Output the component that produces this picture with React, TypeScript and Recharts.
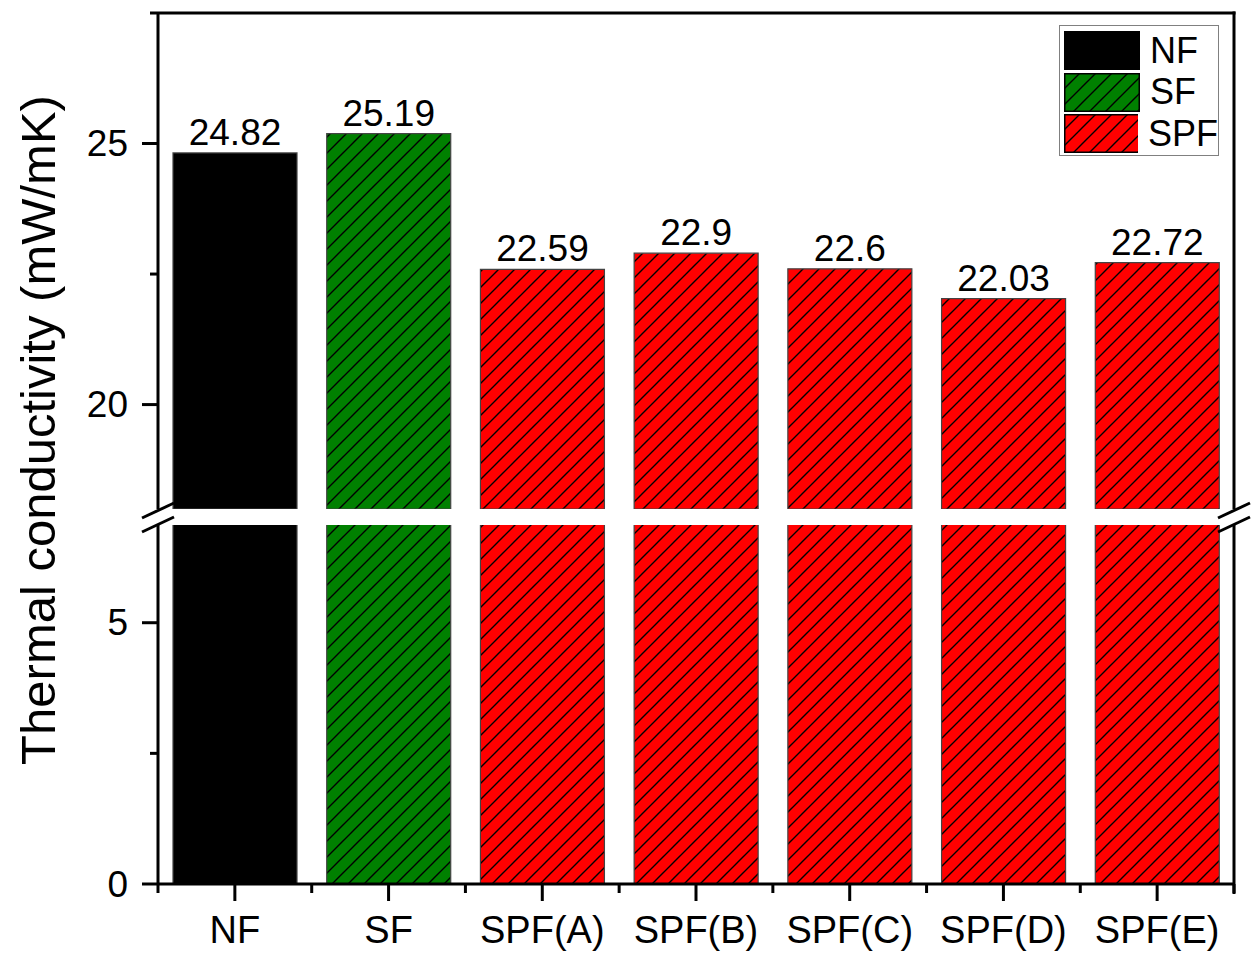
import React from "react";
import { BarChart, Bar, XAxis, YAxis, Cell, LabelList } from "recharts";

const categories = ["NF", "SF", "SPF(A)", "SPF(B)", "SPF(C)", "SPF(D)", "SPF(E)"];
const conductivity = [24.82, 25.19, 22.59, 22.9, 22.6, 22.03, 22.72];
const groups = ["NF", "SF", "SPF", "SPF", "SPF", "SPF", "SPF"];
const legendItems = ["NF", "SF", "SPF"];
const upperTicks = [20, 22.5, 25];
const lowerTicks = [0, 2.5, 5];
const upperDomain = [18, 27.5];
const lowerDomain = [0, 6.87];

const W = 1260;
const H = 959;
const PLOT_LEFT = 158;
const PLOT_RIGHT = 1234;
const UPPER_TOP = 13;
const UPPER_BOTTOM = 509;
const LOWER_TOP = 525;
const LOWER_BOTTOM = 884;
const X_AXIS_H = 60;
const BAND = (PLOT_RIGHT - PLOT_LEFT) / categories.length;
const FONT = "'Liberation Sans', Arial, sans-serif";

const fills: Record<string, string> = {
  NF: "#000000",
  SF: "url(#hatch-green)",
  SPF: "url(#hatch-red)",
};

const data = categories.map((name, i) => ({ name, value: conductivity[i], group: groups[i] }));

function YTick(props: any) {
  const { x, y, payload } = props;
  const major = payload.value % 5 === 0;
  return (
    <g>
      <line x1={x - (major ? 16 : 8)} x2={x} y1={y} y2={y} stroke="#000" strokeWidth={3} />
      {major && (
        <text x={x - 30} y={y} textAnchor="end" dominantBaseline="central" fontSize={37} fontFamily={FONT} fill="#000">
          {payload.value}
        </text>
      )}
    </g>
  );
}

function XTick(props: any) {
  const { x, y, payload, index } = props;
  const last = index === categories.length - 1;
  return (
    <g>
      <line x1={x} x2={x} y1={y} y2={y + 17} stroke="#000" strokeWidth={3} />
      <line x1={x - BAND / 2} x2={x - BAND / 2} y1={y} y2={y + 9} stroke="#000" strokeWidth={3} />
      {last && <line x1={x + BAND / 2} x2={x + BAND / 2} y1={y} y2={y + 9} stroke="#000" strokeWidth={3} />}
      <text x={x} y={y + 59} textAnchor="middle" fontSize={38} fontFamily={FONT} fill="#000">
        {payload.value}
      </text>
    </g>
  );
}

function Hatch({ id, color }: { id: string; color: string }) {
  return (
    <pattern id={id} patternUnits="userSpaceOnUse" width={16} height={16}>
      <rect width={16} height={16} fill={color} />
      <path d="M0,16 L16,0 M-4,4 L4,-4 M12,20 L20,12" stroke="#000" strokeWidth={1.4} />
    </pattern>
  );
}

function BreakMark({ x }: { x: number }) {
  return (
    <g stroke="#000" strokeWidth={3}>
      <line x1={x - 16} y1={UPPER_BOTTOM + 9} x2={x + 16} y2={UPPER_BOTTOM - 6} />
      <line x1={x - 16} y1={LOWER_TOP + 7} x2={x + 16} y2={LOWER_TOP - 8} />
    </g>
  );
}

const axisLine = { stroke: "#000", strokeWidth: 3 };

export default function App() {
  return (
    <div style={{ position: "relative", width: W, height: H, background: "#fff", overflow: "hidden" }}>
      <style>{"html,body{margin:0;padding:0;overflow:hidden}"}</style>
      <svg width={0} height={0} style={{ position: "absolute" }}>
        <defs>
          <Hatch id="hatch-green" color="#008000" />
          <Hatch id="hatch-red" color="#ff0000" />
        </defs>
      </svg>

      <div style={{ position: "absolute", left: 0, top: 0 }}>
        <BarChart width={W} height={H} data={data} margin={{ top: UPPER_TOP, right: W - PLOT_RIGHT, bottom: H - UPPER_BOTTOM, left: 0 }}>
          <XAxis dataKey="name" hide />
          <YAxis yAxisId="left" width={PLOT_LEFT} domain={upperDomain} allowDataOverflow ticks={upperTicks} interval={0} tickSize={0} tickMargin={0} tickLine={false} axisLine={axisLine} tick={YTick} />
          <Bar yAxisId="left" dataKey="value" barSize={124} stroke="#444" strokeWidth={1.2} isAnimationActive={false}>
            {data.map((d, i) => (
              <Cell key={`u-${i}`} fill={fills[d.group]} />
            ))}
            <LabelList dataKey="value" position="top" offset={8} fill="#000" fontSize={37} fontFamily={FONT} />
          </Bar>
        </BarChart>
      </div>

      <div style={{ position: "absolute", left: 0, top: 0 }}>
        <BarChart width={W} height={H} data={data} margin={{ top: LOWER_TOP, right: W - PLOT_RIGHT, bottom: H - LOWER_BOTTOM - X_AXIS_H, left: 0 }}>
          <XAxis dataKey="name" height={X_AXIS_H} interval={0} tickSize={0} tickMargin={0} tickLine={false} axisLine={axisLine} tick={XTick} />
          <YAxis yAxisId="left" width={PLOT_LEFT} domain={lowerDomain} allowDataOverflow ticks={lowerTicks} interval={0} tickSize={0} tickMargin={0} tickLine={false} axisLine={axisLine} tick={YTick} />
          <Bar yAxisId="left" dataKey="value" barSize={124} stroke="#444" strokeWidth={1.2} isAnimationActive={false}>
            {data.map((d, i) => (
              <Cell key={`l-${i}`} fill={fills[d.group]} />
            ))}
          </Bar>
        </BarChart>
      </div>

      <svg width={W} height={H} style={{ position: "absolute", left: 0, top: 0, pointerEvents: "none", zIndex: 5 }}>
        {/* frame edges: top, and the right side on both sides of the break */}
        <rect x={PLOT_LEFT - 8} y={UPPER_TOP - 1.5} width={PLOT_RIGHT - PLOT_LEFT + 9.5} height={3} fill="#000" />
        <rect x={PLOT_RIGHT - 1.5} y={UPPER_TOP - 1.5} width={3} height={UPPER_BOTTOM - UPPER_TOP + 1.5} fill="#000" />
        <rect x={PLOT_RIGHT - 1.5} y={LOWER_TOP} width={3} height={LOWER_BOTTOM - LOWER_TOP + 10} fill="#000" />
        <BreakMark x={PLOT_LEFT} />
        <BreakMark x={PLOT_RIGHT} />
        <text transform="translate(38, 430) rotate(-90)" textAnchor="middle" dominantBaseline="central" fontSize={49} fontFamily={FONT} fill="#000">
          Thermal conductivity (mW/mK)
        </text>
      </svg>

      <div style={{ position: "absolute", left: 1059, top: 25, width: 160, height: 131, boxSizing: "border-box", border: "1.5px solid #808080", background: "#fff", padding: "4px 0 0 4px", zIndex: 6 }}>
        {legendItems.map((g) => (
          <div key={g} style={{ display: "flex", alignItems: "center", height: 41.5 }}>
            <svg width={76} height={39}>
              <rect x={0.75} y={0.75} width={74.5} height={37.5} fill={fills[g]} stroke="#000" strokeWidth={1.5} />
            </svg>
            <span style={{ marginLeft: 10, fontSize: 36, fontFamily: FONT, lineHeight: 1 }}>{g}</span>
          </div>
        ))}
      </div>
    </div>
  );
}
